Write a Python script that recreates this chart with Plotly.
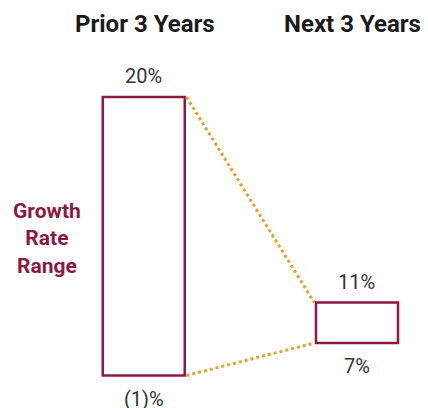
import plotly.graph_objects as go

periods = ["Prior 3 Years", "Next 3 Years"]
low = [-1, 7]
high = [20, 11]
low_labels = ["(1)%", "7%"]
high_labels = ["20%", "11%"]
side_label = "Growth<br>Rate<br>Range"

MAROON = "#8C1A40"
ORANGE = "#E8A02C"
TEXT = "#333333"
FONT = "Roboto"

# axis ranges (schematic: each period has its own vertical scale)
Y1 = [-3.451, 27.314]
Y2 = [0.581, 40.877]
X = [-0.6741, 1.3330]
BAR_W = 0.3845

def y2_to_y1(v):
    frac = (v - Y2[0]) / (Y2[1] - Y2[0])
    return Y1[0] + frac * (Y1[1] - Y1[0])

fig = go.Figure()

fig.add_trace(go.Bar(
    x=[0], y=[high[0] - low[0]], base=[low[0]], width=BAR_W,
    marker=dict(color="white", line=dict(color=MAROON, width=2.5)),
    yaxis="y", showlegend=False, hoverinfo="skip"))
fig.add_trace(go.Bar(
    x=[1], y=[high[1] - low[1]], base=[low[1]], width=BAR_W,
    marker=dict(color="white", line=dict(color=MAROON, width=2.5)),
    yaxis="y2", showlegend=False, hoverinfo="skip"))

# dotted connectors between bar corners
half = BAR_W / 2
for a, b in [(high[0], high[1]), (low[0], low[1])]:
    fig.add_trace(go.Scatter(
        x=[0 + half + 0.008, 1 - half - 0.008], y=[a, y2_to_y1(b)],
        mode="lines", line=dict(color=ORANGE, width=3, dash="dot"),
        yaxis="y", showlegend=False, hoverinfo="skip"))

ann = []
for i, p in enumerate(periods):
    ann.append(dict(x=i, y=1 - 24 / 408, xref="x", yref="paper", yanchor="middle",
                    xanchor="center",
                    text=f"<b>{p}</b>", showarrow=False,
                    xshift=(1.5 if i == 0 else -4.5),
                    font=dict(family=FONT, size=24, color="#1a1a1a")))
yrefs = ["y", "y2"]
for i in range(2):
    ann.append(dict(x=i, y=high[i], xref="x", yref=yrefs[i], yanchor="middle",
                    yshift=21, text=high_labels[i], showarrow=False,
                    font=dict(family=FONT, size=20, color=TEXT)))
    ann.append(dict(x=i, y=low[i], xref="x", yref=yrefs[i], yanchor="middle",
                    yshift=-23, text=low_labels[i], showarrow=False,
                    font=dict(family=FONT, size=20, color=TEXT)))
ann.append(dict(x=47 / 428, y=1 - 238 / 408, xref="paper", yref="paper",
                xanchor="center", yanchor="middle",
                text=f"<b>{side_label}</b>", showarrow=False, align="center",
                font=dict(family=FONT, size=21, color=MAROON)))

fig.update_layout(
    width=428, height=408,
    margin=dict(l=0, r=0, t=0, b=0),
    paper_bgcolor="white", plot_bgcolor="white",
    xaxis=dict(range=X, visible=False, fixedrange=True),
    yaxis=dict(range=Y1, visible=False, fixedrange=True),
    yaxis2=dict(range=Y2, visible=False, overlaying="y", fixedrange=True),
    annotations=ann,
    showlegend=False,
)

fig.write_html("out.html")
